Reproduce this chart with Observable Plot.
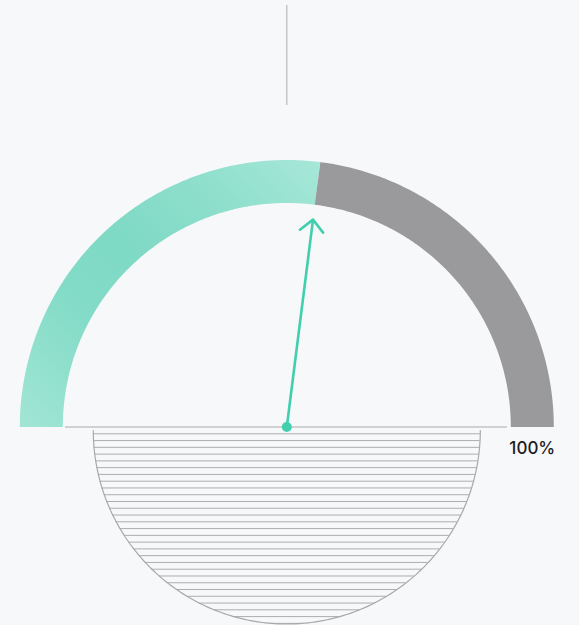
<!DOCTYPE html>
<html><head><meta charset="utf-8">
<script src="https://cdn.jsdelivr.net/npm/d3@7"></script>
<script src="https://cdn.jsdelivr.net/npm/@observablehq/plot@0.6"></script>
<style>
html,body{margin:0;padding:0;background:#f7f8fa;}
#chart{width:579px;height:625px;overflow:hidden;}
svg{display:block;}
</style>
</head><body><div id="chart"></div>
<script>
// ---- data ----
const segmentNames = ["value", "remainder"];
const segmentValues = [54, 46];
const maxValue = [100];
const tickLabels = ["100%"];
const segmentColors = ["url(#tealGrad)", "#9a9a9c"];
const needleColor = "#41cfae";

// ---- layout (pixel units, centre of gauge at origin) ----
const W = 579, H = 625, CX = 286.3, CY = 426.5;
const R_OUT = 267, R_IN = 224, R_MID = (R_OUT + R_IN) / 2, BAND = R_OUT - R_IN;
const NEEDLE = 209, DISC_R = 193.5, DISC_Y = -3.5, HATCH = 6.77, HATCH0 = 3.3;
const total = maxValue[0];
const ang = f => Math.PI * (1 - f);

function arcPoints(f0, f1, r, n = 160) {
  const pts = [];
  for (let i = 0; i <= n; i++) {
    const a = ang(f0 + (f1 - f0) * i / n);
    pts.push({x: r * Math.cos(a), y: r * Math.sin(a)});
  }
  return pts;
}

// segments of the gauge band
let acc = 0;
const bands = segmentNames.map((name, i) => {
  const f0 = acc / total; acc += segmentValues[i]; const f1 = acc / total;
  return {name, color: segmentColors[i], pts: arcPoints(f0, f1, R_MID)};
});

// half disc underneath
const discPts = [];
for (let i = 0; i <= 200; i++) {
  const a = Math.PI + Math.PI * i / 200;
  discPts.push({x: DISC_R * Math.cos(a), y: DISC_Y + DISC_R * Math.sin(a)});
}
const hatch = [];
for (let dy = HATCH0; dy < DISC_R; dy += HATCH) {
  const hw = Math.sqrt(DISC_R * DISC_R - dy * dy);
  hatch.push({y: DISC_Y - dy, x1: -hw, x2: hw});
}

// needle
const fv = segmentValues[0] / total;
const needle = [{x1: 0, y1: 0, x2: NEEDLE * Math.cos(ang(fv)), y2: NEEDLE * Math.sin(ang(fv))}];

// gradient definition
const gradMark = () => {
  const ns = "http://www.w3.org/2000/svg";
  const defs = document.createElementNS(ns, "defs");
  const g = document.createElementNS(ns, "linearGradient");
  g.setAttribute("id", "tealGrad");
  g.setAttribute("gradientUnits", "userSpaceOnUse");
  const s1 = -189, s2 = 211, k = Math.SQRT1_2;
  g.setAttribute("x1", CX + s1 * k); g.setAttribute("y1", CY - s1 * k);
  g.setAttribute("x2", CX + s2 * k); g.setAttribute("y2", CY - s2 * k);
  [[0, "#a2e5d5"], [0.3, "#84dcc8"], [0.5, "#7ed9c5"], [0.75, "#8edfcc"], [1, "#a7e7d8"]].forEach(([o, c]) => {
    const st = document.createElementNS(ns, "stop");
    st.setAttribute("offset", o); st.setAttribute("stop-color", c);
    g.appendChild(st);
  });
  defs.appendChild(g);
  return defs;
};

const chart = Plot.plot({
  width: W, height: H,
  margin: 0,
  style: {background: "#f7f8fa", overflow: "visible"},
  x: {domain: [-CX, W - CX], axis: null},
  y: {domain: [CY - H, CY], axis: null},
  marks: [
    gradMark,
    // top vertical guide
    Plot.ruleX([0], {y1: CY - 5, y2: CY - 105, stroke: "#b9b9bb", strokeWidth: 1.2}),
    // gauge bands
    ...bands.map(b => Plot.line(b.pts, {x: "x", y: "y", stroke: b.color, strokeWidth: BAND,
      strokeLinecap: "butt", strokeLinejoin: "round", curve: "linear"})),
    // baseline
    Plot.ruleY([0], {x1: -221.3, x2: 220.7, stroke: "#a9a9ab", strokeWidth: 1.2}),
    // hatched half disc
    Plot.ruleY(hatch, {y: "y", x1: "x1", x2: "x2", stroke: "#adadaf", strokeWidth: 1}),
    Plot.line(discPts, {x: "x", y: "y", stroke: "#a9a9ab", strokeWidth: 1.2}),
    // needle
    Plot.arrow(needle, {x1: "x1", y1: "y1", x2: "x2", y2: "y2", stroke: needleColor,
      strokeWidth: 2.6, headAngle: 90, headLength: 9.5}),
    Plot.dot([0], {x: 0, y: 0, r: 5, fill: needleColor, stroke: null}),
    // end label
    Plot.text(tickLabels, {x: R_MID, y: -21.5, text: d => d, fontSize: 17,
      fontFamily: "Inter, 'Open Sans', sans-serif", fontWeight: 500, fill: "#1c1c1e",
      textAnchor: "middle"})
  ]
});
document.getElementById("chart").appendChild(chart);
</script>
</body></html>
